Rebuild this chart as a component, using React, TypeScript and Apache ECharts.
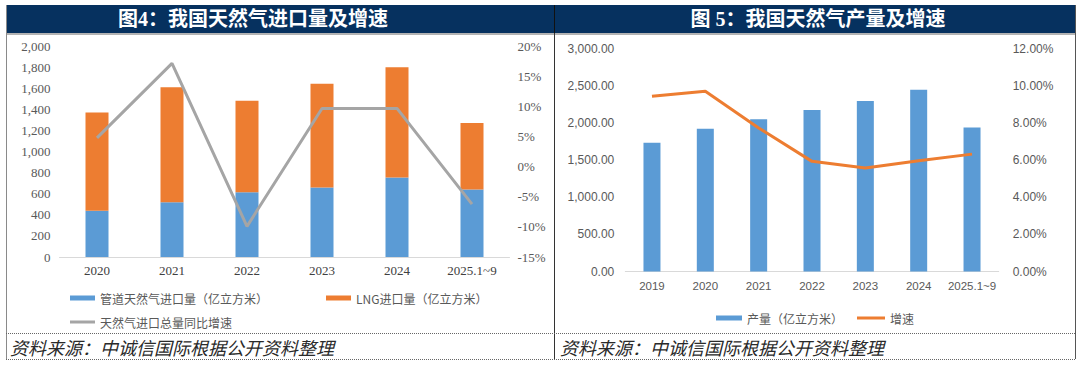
import React, { useEffect, useRef } from "react";
import * as echarts from "echarts";

const leftTitle = "图4：我国天然气进口量及增速";
const rightTitle = "图 5：我国天然气产量及增速";
const sourceText = "资料来源：中诚信国际根据公开资料整理";

const importCategories = ["2020", "2021", "2022", "2023", "2024", "2025.1~9"];
const pipelineImports = [440, 521, 616, 660, 755, 641];
const lngImports = [934, 1093, 869, 985, 1049, 632];
const importGrowth = [4.8, 17.2, -9.9, 9.7, 9.7, -6.2];

const productionCategories = ["2019", "2020", "2021", "2022", "2023", "2024", "2025.1~9"];
const production = [1736, 1925, 2053, 2178, 2300, 2450, 1940];
const productionGrowth = [9.45, 9.72, 7.74, 5.94, 5.58, 5.97, 6.33];

const pipeName = "管道天然气进口量（亿立方米）";
const lngName = "LNG进口量（亿立方米）";
const importGrowthName = "天然气进口总量同比增速";
const productionName = "产量（亿立方米）";
const productionGrowthName = "增速";

const BLUE = "#5B9BD5";
const ORANGE = "#ED7D31";
const GRAY = "#A5A5A5";
const NAVY = "#06315F";
const SERIF = "'Liberation Serif', 'Noto Sans CJK SC', serif";
const SANS = "'Liberation Sans', 'Noto Sans CJK SC', sans-serif";
const CJK = "'Noto Sans CJK SC', sans-serif";

export default function App() {
  const ref = useRef<HTMLDivElement>(null);
  useEffect(() => {
    if (!ref.current) return;
    const chart = echarts.init(ref.current, undefined, { renderer: "svg" });
    const legendText = { color: "#595959", fontSize: 12, fontFamily: CJK };
    const dotted = (x1: number, x2: number, y: number) => ({
      type: "line",
      shape: { x1, y1: y, x2, y2: y },
      style: { stroke: "#666", lineWidth: 1.2, lineDash: [1, 1] },
      silent: true,
    });
    const legendBase = { padding: 0, icon: "rect", itemGap: 5, textStyle: legendText, selectedMode: false };
    chart.setOption({
      animation: false,
      backgroundColor: "#ffffff",
      graphic: [
        { type: "rect", shape: { x: 6, y: 5, width: 1070, height: 28 }, style: { fill: NAVY } },
        { type: "line", shape: { x1: 6, y1: 34, x2: 1076, y2: 34 }, style: { stroke: "#9a9a9a", lineWidth: 1.5 } },
        { type: "line", shape: { x1: 554.5, y1: 5, x2: 554.5, y2: 33 }, style: { stroke: "#111", lineWidth: 1 } },
        { type: "line", shape: { x1: 6.5, y1: 5, x2: 6.5, y2: 359 }, style: { stroke: "#8a8a8a", lineWidth: 1 } },
        { type: "line", shape: { x1: 554.5, y1: 33, x2: 554.5, y2: 359 }, style: { stroke: "#333", lineWidth: 1 } },
        { type: "line", shape: { x1: 1075.5, y1: 5, x2: 1075.5, y2: 359 }, style: { stroke: "#555", lineWidth: 1 } },
        dotted(6, 1076, 333.5),
        dotted(6, 1076, 359.5),
        {
          type: "text",
          x: 253,
          y: 19,
          style: { text: leftTitle, fill: "#ffffff", font: `bold 20px ${SERIF}`, align: "center", verticalAlign: "middle" },
        },
        {
          type: "text",
          x: 818,
          y: 19,
          style: { text: rightTitle, fill: "#ffffff", font: `bold 20px ${SERIF}`, align: "center", verticalAlign: "middle" },
        },
        {
          type: "text",
          x: 10,
          y: 347,
          style: { text: sourceText, fill: "#2a2a2a", font: `italic 18px ${CJK}`, align: "left", verticalAlign: "middle" },
        },
        {
          type: "text",
          x: 560,
          y: 347,
          style: { text: sourceText, fill: "#2a2a2a", font: `italic 18px ${CJK}`, align: "left", verticalAlign: "middle" },
        },
      ],
      legend: [
        { ...legendBase, data: [pipeName], left: 70, top: 292, itemWidth: 25, itemHeight: 5 },
        { ...legendBase, data: [lngName], left: 326, top: 292, itemWidth: 25, itemHeight: 5 },
        { ...legendBase, data: [importGrowthName], left: 70, top: 316, itemWidth: 25, itemHeight: 3 },
        { ...legendBase, data: [productionName], left: 716, top: 312, itemWidth: 26, itemHeight: 5 },
        { ...legendBase, data: [productionGrowthName], left: 857, top: 312, itemWidth: 28, itemHeight: 3 },
      ],
      grid: [
        { left: 59.5, top: 46.5, width: 450, height: 210.5 },
        { left: 625.3, top: 49, width: 373.4, height: 222.5 },
      ],
      xAxis: [
        {
          type: "category", gridIndex: 0, data: importCategories,
          axisLine: { lineStyle: { color: "#D9D9D9" } }, axisTick: { show: false },
          axisLabel: { color: "#404040", fontSize: 13, fontFamily: SERIF, margin: 7, interval: 0 },
        },
        {
          type: "category", gridIndex: 1, data: productionCategories,
          axisLine: { lineStyle: { color: "#D9D9D9" } }, axisTick: { show: false },
          axisLabel: { color: "#595959", fontSize: 11.5, fontFamily: SANS, margin: 9, interval: 0 },
        },
      ],
      yAxis: [
        {
          type: "value", gridIndex: 0, min: 0, max: 2000, interval: 200,
          splitLine: { show: false }, axisLine: { show: false }, axisTick: { show: false },
          axisLabel: {
            color: "#595959", fontSize: 13, fontFamily: SERIF, margin: 9,
            formatter: (v: number) => v.toLocaleString("en-US"),
          },
        },
        {
          type: "value", gridIndex: 0, min: -15, max: 20, interval: 5, position: "right",
          splitLine: { show: false }, axisLine: { show: false }, axisTick: { show: false },
          axisLabel: { color: "#595959", fontSize: 13, fontFamily: SERIF, margin: 8, formatter: (v: number) => `${v}%` },
        },
        {
          type: "value", gridIndex: 1, min: 0, max: 3000, interval: 500,
          splitLine: { show: false }, axisLine: { show: false }, axisTick: { show: false },
          axisLabel: {
            color: "#595959", fontSize: 12, fontFamily: SANS, margin: 11,
            formatter: (v: number) =>
              v.toLocaleString("en-US", { minimumFractionDigits: 2, maximumFractionDigits: 2 }),
          },
        },
        {
          type: "value", gridIndex: 1, min: 0, max: 12, interval: 2, position: "right",
          splitLine: { show: false }, axisLine: { show: false }, axisTick: { show: false },
          axisLabel: { color: "#595959", fontSize: 12, fontFamily: SANS, margin: 14, formatter: (v: number) => `${v.toFixed(2)}%` },
        },
      ],
      series: [
        {
          name: pipeName, type: "bar", xAxisIndex: 0, yAxisIndex: 0, stack: "imports",
          data: pipelineImports, barWidth: 23, itemStyle: { color: BLUE },
        },
        {
          name: lngName, type: "bar", xAxisIndex: 0, yAxisIndex: 0, stack: "imports",
          data: lngImports, barWidth: 23, itemStyle: { color: ORANGE },
        },
        {
          name: importGrowthName, type: "line", xAxisIndex: 0, yAxisIndex: 1,
          data: importGrowth, symbol: "none", lineStyle: { color: GRAY, width: 3 }, itemStyle: { color: GRAY }, z: 5,
        },
        {
          name: productionName, type: "bar", xAxisIndex: 1, yAxisIndex: 2,
          data: production, barWidth: 17, itemStyle: { color: BLUE },
        },
        {
          name: productionGrowthName, type: "line", xAxisIndex: 1, yAxisIndex: 3,
          data: productionGrowth, symbol: "none", lineStyle: { color: ORANGE, width: 3 }, itemStyle: { color: ORANGE }, z: 5,
        },
      ],
    });
    return () => chart.dispose();
  }, []);
  return (
    <div
      ref={ref}
      style={{ position: "absolute", left: 0, top: 0, width: 1080, height: 369, background: "#fff" }}
    />
  );
}
